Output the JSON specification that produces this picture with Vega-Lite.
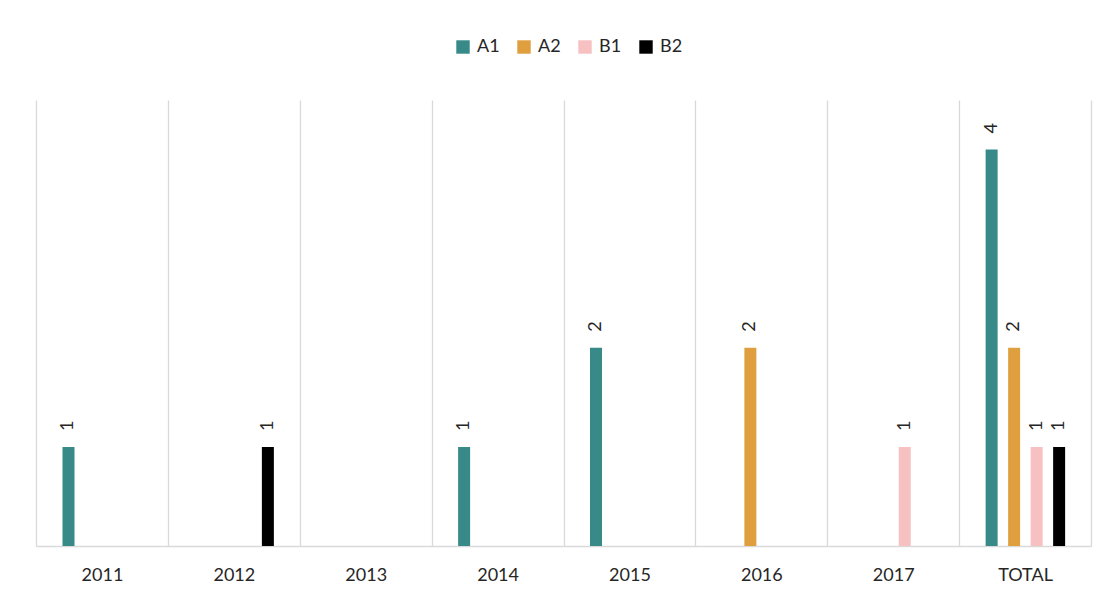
{
  "$schema": "https://vega.github.io/schema/vega-lite/v6.json",
  "width": 1055,
  "height": 446,
  "autosize": {"type": "none"},
  "padding": {"left": 36, "top": 100, "right": 17, "bottom": 50},
  "background": "white",
  "config": {"view": {"stroke": null}, "font": "Lato"},
  "data": {"values": [
    {"year": "2011", "series": "A1", "value": 1},
    {"year": "2012", "series": "B2", "value": 1},
    {"year": "2014", "series": "A1", "value": 1},
    {"year": "2015", "series": "A1", "value": 2},
    {"year": "2016", "series": "A2", "value": 2},
    {"year": "2017", "series": "B1", "value": 1},
    {"year": "TOTAL", "series": "A1", "value": 4},
    {"year": "TOTAL", "series": "A2", "value": 2},
    {"year": "TOTAL", "series": "B1", "value": 1},
    {"year": "TOTAL", "series": "B2", "value": 1}
  ]},
  "encoding": {
    "x": {
      "field": "year", "type": "nominal",
      "scale": {"domain": ["2011", "2012", "2013", "2014", "2015", "2016", "2017", "TOTAL"], "paddingInner": 0, "paddingOuter": 0},
      "axis": {
        "title": null, "labelAngle": 0, "ticks": false, "tickBand": "extent",
        "grid": true, "gridColor": "#d9d9d9", "gridWidth": 1.3,
        "domainColor": "#d9d9d9", "domainWidth": 1.5,
        "labelFont": "Lato", "labelFontSize": 18, "labelColor": "#262626", "labelPadding": 20
      }
    },
    "xOffset": {
      "field": "series", "type": "nominal",
      "scale": {"domain": ["A1", "A2", "B1", "B2"], "range": [26.5, 106], "paddingInner": 0.467, "paddingOuter": 0}
    },
    "y": {"field": "value", "type": "quantitative", "scale": {"domain": [0, 4.5], "nice": false}, "axis": null}
  },
  "layer": [
    {
      "mark": {"type": "bar"},
      "encoding": {
        "color": {
          "field": "series", "type": "nominal",
          "scale": {"domain": ["A1", "A2", "B1", "B2"], "range": ["#378a88", "#e09f3e", "#f7c0c1", "#000000"]},
          "legend": {
            "title": null, "orient": "none", "direction": "horizontal",
            "legendX": 418, "legendY": -62,
            "symbolType": "square", "symbolSize": 180, "symbolStrokeWidth": 0,
            "labelFont": "Lato", "labelFontSize": 18, "labelColor": "#262626",
            "labelOffset": 5, "columnPadding": 15
          }
        }
      }
    },
    {
      "mark": {"type": "text", "angle": 270, "align": "left", "baseline": "middle", "dx": 16, "fontSize": 18, "color": "#262626", "font": "Lato"},
      "encoding": {"text": {"field": "value", "type": "quantitative"}}
    }
  ]
}
